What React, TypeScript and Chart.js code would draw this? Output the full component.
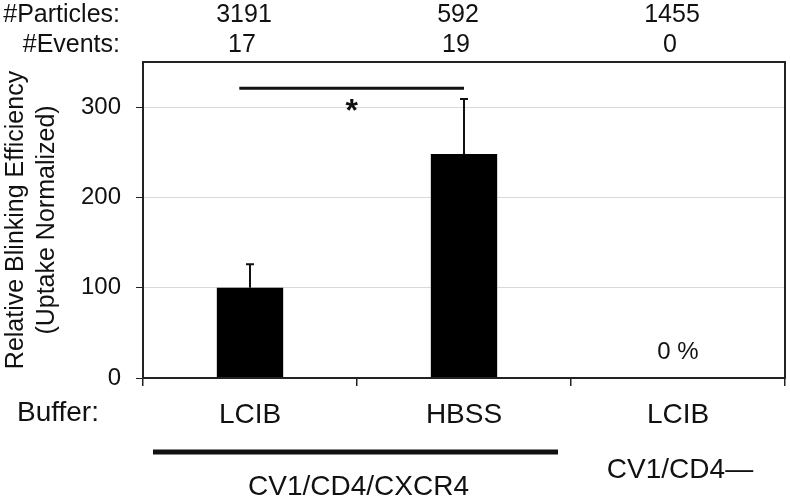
import React, { useEffect, useRef } from "react";
import { Chart, registerables } from "chart.js";

Chart.register(...registerables);

const categories = ["LCIB", "HBSS", "LCIB"];
const efficiency = [100, 248, 0];
const errorUp = [26, 61, 0];
const particles = ["3191", "592", "1455"];
const events = ["17", "19", "0"];
const yTickValues = [0, 100, 200, 300];
const yMax = 350;
const sigLevel = 321;
const sigPair = [0, 1];
const groupMain = "CV1/CD4/CXCR4";
const groupNeg = "CV1/CD4\u2014";
const zeroLabel = "0 %";

const FONT = "'Liberation Sans', Arial, sans-serif";
const INK = "#111";

const overlay = {
  id: "overlay",
  afterDatasetsDraw(chart: any) {
    const { ctx, chartArea } = chart;
    const x = chart.scales.x;
    const y = chart.scales.y;
    ctx.save();
    // error bars (upper only)
    ctx.strokeStyle = INK;
    ctx.lineWidth = 2;
    efficiency.forEach((v, i) => {
      if (!errorUp[i]) return;
      const px = x.getPixelForValue(i);
      const y0 = y.getPixelForValue(v);
      const y1 = y.getPixelForValue(v + errorUp[i]);
      ctx.beginPath();
      ctx.moveTo(px, y0);
      ctx.lineTo(px, y1);
      ctx.moveTo(px - 4, y1);
      ctx.lineTo(px + 4, y1);
      ctx.stroke();
    });
    // significance line
    const w = x.getPixelForValue(1) - x.getPixelForValue(0);
    const sx0 = x.getPixelForValue(sigPair[0]) - w * 0.05;
    const sx1 = x.getPixelForValue(sigPair[1]);
    const sy = y.getPixelForValue(sigLevel);
    ctx.lineWidth = 3;
    ctx.beginPath();
    ctx.moveTo(sx0, sy);
    ctx.lineTo(sx1, sy);
    ctx.stroke();
    ctx.fillStyle = INK;
    ctx.font = `bold 32px ${FONT}`;
    ctx.textAlign = "center";
    ctx.textBaseline = "alphabetic";
    ctx.fillText("*", (sx0 + sx1) / 2, sy + 33);
    // 0 % label
    ctx.font = `24px ${FONT}`;
    ctx.textBaseline = "middle";
    efficiency.forEach((v, i) => {
      if (v === 0) ctx.fillText(zeroLabel, x.getPixelForValue(i), y.getPixelForValue(0) - 26);
    });
    // plot box
    ctx.strokeStyle = "#222";
    ctx.lineWidth = 2;
    ctx.strokeRect(chartArea.left, chartArea.top, chartArea.right - chartArea.left, chartArea.bottom - chartArea.top);
    // header rows
    ctx.font = `25px ${FONT}`;
    ctx.textAlign = "right";
    ctx.fillText("#Particles:", 120, 15);
    ctx.fillText("#Events:", 120, 45);
    ctx.textAlign = "center";
    particles.forEach((p, i) => ctx.fillText(p, x.getPixelForValue(i) - 6, 15));
    events.forEach((p, i) => ctx.fillText(p, x.getPixelForValue(i) - 8, 45));
    // bottom annotations
    ctx.font = `28px ${FONT}`;
    ctx.textAlign = "left";
    ctx.fillText("Buffer:", 17, 413);
    const gl = x.getPixelForValue(0) - w / 2 + 10;
    const gr = x.getPixelForValue(1) + w / 2 - 13;
    ctx.lineWidth = 5;
    ctx.strokeStyle = INK;
    ctx.beginPath();
    ctx.moveTo(gl, 452);
    ctx.lineTo(gr, 452);
    ctx.stroke();
    ctx.textAlign = "center";
    ctx.fillText(groupMain, (gl + gr) / 2 + 3, 487);
    ctx.fillText(groupNeg, x.getPixelForValue(2) + 2, 470);
    ctx.restore();
  },
};

export default function App() {
  const ref = useRef<HTMLCanvasElement>(null);
  useEffect(() => {
    if (!ref.current) return;
    const chart = new Chart(ref.current, {
      type: "bar",
      data: {
        labels: categories,
        datasets: [
          {
            data: efficiency,
            backgroundColor: "#000",
            borderColor: "#333",
            borderWidth: 0,
            categoryPercentage: 1,
            barPercentage: 0.31,
          },
        ],
      },
      options: {
        animation: false,
        responsive: true,
        maintainAspectRatio: false,
        layout: { padding: { top: 62, right: 5, left: 0, bottom: 0 } },
        plugins: { legend: { display: false }, tooltip: { enabled: false } },
        scales: {
          x: {
            afterFit: (s: any) => {
              s.height = 122;
            },
            grid: {
              offset: true,
              drawOnChartArea: false,
              tickLength: 8,
              tickColor: "#222",
              lineWidth: 1.5,
            },
            border: { color: "#222", width: 2 },
            ticks: { font: { family: FONT, size: 28 }, color: INK, padding: 12 },
          },
          y: {
            min: 0,
            max: yMax,
            afterFit: (s: any) => {
              s.width = 143;
            },
            afterBuildTicks: (s: any) => {
              s.ticks = yTickValues.map((v) => ({ value: v }));
            },
            grid: {
              color: (c: any) => (c.tick && c.tick.value === 0 ? "rgba(0,0,0,0)" : "#d9d9d9"),
              tickColor: "#222",
              tickLength: 7,
              lineWidth: 1,
            },
            border: { color: "#222", width: 2 },
            ticks: { font: { family: FONT, size: 24 }, color: INK, padding: 15, stepSize: 100 },
            title: {
              display: true,
              text: ["Relative Blinking Efficiency", "(Uptake Normalized)"],
              font: { family: FONT, size: 25, lineHeight: 1.24 },
              color: INK,
              padding: { top: 1, bottom: 0 },
            },
          },
        },
      },
      plugins: [overlay],
    });
    return () => chart.destroy();
  }, []);
  return (
    <div style={{ position: "fixed", left: 0, top: 0, width: 790, height: 500, background: "#fff" }}>
      <canvas ref={ref} />
    </div>
  );
}
